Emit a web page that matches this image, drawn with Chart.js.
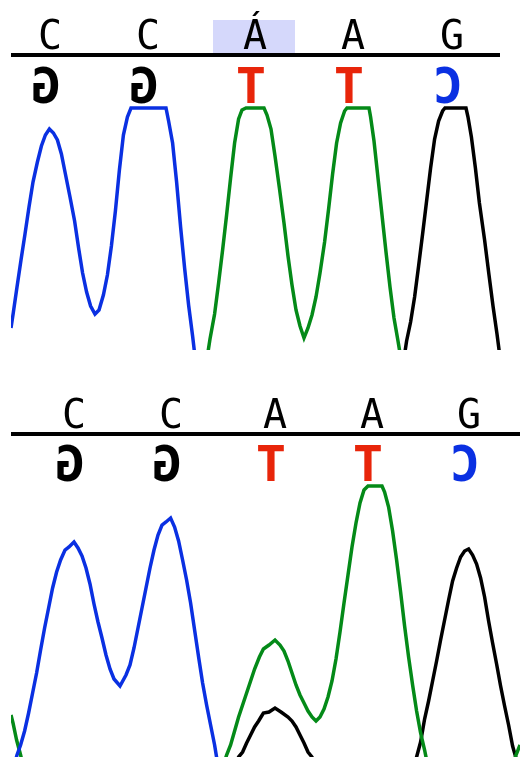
<!DOCTYPE html>
<html>
<head>
<meta charset="utf-8">
<script src="https://cdn.jsdelivr.net/npm/chart.js@4.4.1/dist/chart.umd.min.js"></script>
<style>
  html, body { margin: 0; padding: 0; background: #fff; }
  .panel { position: absolute; left: 0; width: 520px; }
  #topPanel { top: 0; height: 378px; }
  #bottomPanel { top: 378px; height: 379px; }
</style>
</head>
<body>
<div class="panel" id="topPanel"><canvas id="topChart"></canvas></div>
<div class="panel" id="bottomPanel"><canvas id="bottomChart"></canvas></div>
<script>
// base calls (scan position of each call)
const topCalls = ["C", "C", "Á", "A", "G"];
const topComplement = ["G", "G", "T", "T", "C"];
const topCallScans = [9.75, 34.25, 61, 85.5, 110.25];
const topHighlight = 2;

const bottomCalls = ["C", "C", "A", "A", "G"];
const bottomComplement = ["G", "G", "T", "T", "C"];
const bottomCallScans = [15.75, 40, 66, 90.25, 114.5];

// traces: [scan, signal]
const topC = [
  [0, 110], [0.6, 190], [1.5, 315], [2.5, 450], [3.5, 580], [4.5, 715], [5.5, 840],
  [6.6, 940], [7.6, 1020], [8.6, 1075], [9.6, 1105], [10.6, 1085], [11.6, 1050],
  [12.6, 980], [13.6, 880], [14.75, 765], [15.9, 645], [16.9, 510], [17.9, 385],
  [18.9, 290], [19.9, 220], [21, 180], [22, 200], [23.1, 275], [24.1, 375],
  [25.1, 520], [26.1, 695], [27.1, 900], [28.1, 1075], [29.1, 1165], [30, 1210],
  [38.75, 1210], [39.4, 1145], [40.4, 1035], [41.4, 840], [42.4, 615], [43.4, 410],
  [44.4, 225], [45.4, 70], [46.25, -75]
];
const topA = [
  [48.75, -75], [49.75, 55], [50.9, 180], [51.9, 335], [52.9, 500], [53.9, 675],
  [54.9, 860], [55.9, 1035], [56.9, 1155], [57.75, 1200], [58.75, 1210], [63.25, 1210],
  [64, 1175], [65, 1105], [66, 970], [67.1, 810], [68.25, 635], [69.25, 470],
  [70.25, 325], [71.25, 200], [72.25, 120], [73.25, 60], [74.25, 110], [75.25, 175],
  [76.25, 265], [77.25, 385], [78.4, 540], [79.4, 705], [80.4, 880], [81.4, 1035],
  [82.4, 1135], [83.4, 1195], [84, 1210], [89.5, 1210], [89.9, 1165], [90.75, 1045],
  [91.75, 860], [92.75, 675], [93.75, 490], [94.75, 315], [95.75, 160], [96.75, 45],
  [97.75, -75]
];
const topG = [
  [98, -75], [98.9, 45], [99.9, 140], [100.9, 265], [101.9, 420], [102.9, 580],
  [103.9, 745], [104.9, 910], [105.9, 1055], [106.9, 1145], [107.9, 1195],
  [108.5, 1210], [113.75, 1210], [114.25, 1165], [115.1, 1065], [116.1, 910],
  [117.1, 735], [118.4, 550], [119.5, 375], [120.5, 220], [121.5, 80], [122.5, -75]
];

const bottomC = [
  [0.5, -65], [1.5, 10], [2.4, 60], [3.4, 130], [4.4, 220], [5.4, 320], [6.4, 420],
  [7.4, 535], [8.4, 645], [9.4, 745], [10.4, 845], [11.4, 925], [12.4, 985],
  [13.5, 1035], [14.5, 1050], [15.75, 1075], [16.75, 1045], [17.75, 1005],
  [18.75, 945], [19.75, 865], [20.75, 765], [21.75, 675], [22.75, 595], [23.75, 510],
  [24.75, 440], [25.75, 390], [27.25, 355], [28.75, 410], [29.75, 460], [30.75, 545],
  [31.75, 645], [32.75, 745], [33.75, 845], [34.75, 945], [35.75, 1035], [36.75, 1110],
  [37.75, 1160], [38.75, 1175], [39.9, 1195], [40.9, 1150], [41.9, 1080], [42.9, 985],
  [43.9, 885], [44.9, 770], [45.9, 635], [46.9, 500], [47.9, 370], [48.9, 260],
  [49.9, 160], [50.9, 60], [52, -75]
];
const bottomA = [
  [0, 210], [0.5, 170], [1.4, 85], [2.4, 10], [3.25, -65], [52.75, -65],
  [53.9, 10], [54.9, 60], [55.9, 130], [56.9, 200], [57.9, 260], [58.9, 320],
  [59.9, 380], [60.9, 440], [62.1, 500], [63.1, 540], [64.5, 560], [66, 585],
  [67.25, 560], [68.25, 530], [69.25, 480], [70.25, 420], [71.25, 360], [72.25, 310],
  [73.25, 270], [74.25, 230], [75.25, 200], [76.25, 180], [77.25, 200], [78.25, 240],
  [79.25, 300], [80.25, 380], [81.25, 490], [82.25, 625], [83.25, 770], [84.25, 910],
  [85.25, 1050], [86.25, 1170], [87.25, 1270], [88.25, 1335], [89.25, 1355],
  [92.75, 1355], [93.4, 1325], [94.4, 1250], [95.4, 1130], [96.4, 985], [97.4, 825],
  [98.4, 655], [99.4, 500], [100.4, 360], [101.4, 230], [102.4, 120], [103.4, 35],
  [104.5, -75], [124.75, -90], [126.25, 10], [127.25, 60]
];
const bottomG = [
  [55.5, -65], [56.9, 0], [57.9, 25], [58.9, 70], [59.9, 110], [60.9, 150],
  [61.9, 180], [62.5, 200], [63.1, 220], [64.5, 225], [66, 245], [67.5, 225],
  [69.25, 200], [70.25, 180], [71.25, 150], [72.25, 110], [73.25, 70], [74.25, 25],
  [75.25, 0], [76.25, -75], [100.25, -90], [101.4, 0], [102.4, 75], [103.4, 190],
  [104.4, 280], [105.4, 380], [106.4, 480], [107.4, 585], [108.4, 685], [109.4, 785],
  [110.4, 880], [111.4, 945], [112.4, 1000], [113.4, 1030], [114.4, 1040],
  [115.4, 1010], [116.4, 965], [117.4, 895], [118.4, 800], [119.4, 680], [120.4, 570],
  [121.4, 465], [122.4, 355], [123.4, 255], [124.4, 160], [125.4, 55], [126.75, -40]
];

const BASE_COLORS = { A: "#048a18", C: "#0a30e2", G: "#000000", T: "#e8250a" };
const HIGHLIGHT = "#d5d8fb";

const baseCallsPlugin = {
  id: "baseCalls",
  afterDraw(chart, args, opts) {
    const ctx = chart.ctx;
    const x = chart.scales.x;
    ctx.save();

    if (opts.highlight != null) {
      const cx = x.getPixelForValue(opts.scans[opts.highlight]);
      ctx.fillStyle = HIGHLIGHT;
      ctx.fillRect(cx - 42, opts.callTop, 82, opts.lineY - opts.callTop);
    }

    ctx.textAlign = "center";
    ctx.textBaseline = "alphabetic";
    ctx.fillStyle = "#000";
    ctx.font = "40px 'DejaVu Sans Mono'";
    opts.calls.forEach((c, i) => {
      ctx.fillText(c, x.getPixelForValue(opts.scans[i]), opts.callBase);
    });

    ctx.fillRect(11, opts.lineY, opts.lineRight - 11, 4);

    ctx.font = "bold 50px 'DejaVu Sans Mono'";
    opts.complement.forEach((c, i) => {
      ctx.save();
      ctx.translate(x.getPixelForValue(opts.scans[i]) - 4, opts.compBase);
      ctx.scale(-1, 1);
      ctx.fillStyle = BASE_COLORS[c];
      ctx.fillText(c, 0, 0);
      ctx.restore();
    });

    ctx.restore();
  }
};

function toPoints(arr) {
  return arr.map(p => ({ x: p[0], y: p[1] }));
}

function traceSet(arr, base) {
  return {
    data: toPoints(arr),
    borderColor: BASE_COLORS[base],
    borderWidth: 3.5,
    pointRadius: 0,
    tension: 0,
    clip: { left: 0, top: 4, right: 0, bottom: 0 }
  };
}

function makeChart(id, datasets, yMax, padding, calls) {
  return new Chart(document.getElementById(id), {
    type: "line",
    data: { datasets },
    options: {
      animation: false,
      responsive: true,
      maintainAspectRatio: false,
      layout: { padding },
      scales: {
        x: { type: "linear", min: 0, max: 127.25, display: false },
        y: { min: 0, max: yMax, display: false }
      },
      plugins: {
        legend: { display: false },
        tooltip: { enabled: false },
        baseCalls: calls
      }
    },
    plugins: [baseCallsPlugin]
  });
}

makeChart("topChart",
  [traceSet(topC, "C"), traceSet(topA, "A"), traceSet(topG, "G")],
  1210,
  { left: 11, right: 0, top: 108, bottom: 28 },
  {
    calls: topCalls, complement: topComplement, scans: topCallScans,
    highlight: topHighlight, callTop: 20, callBase: 49, lineY: 53,
    lineRight: 500, compBase: 103
  });

makeChart("bottomChart",
  [traceSet(bottomC, "C"), traceSet(bottomA, "A"), traceSet(bottomG, "G")],
  1360,
  { left: 11, right: 0, top: 107, bottom: 0 },
  {
    calls: bottomCalls, complement: bottomComplement, scans: bottomCallScans,
    highlight: null, callTop: 22, callBase: 50, lineY: 54,
    lineRight: 520, compBase: 103
  });
</script>
</body>
</html>
